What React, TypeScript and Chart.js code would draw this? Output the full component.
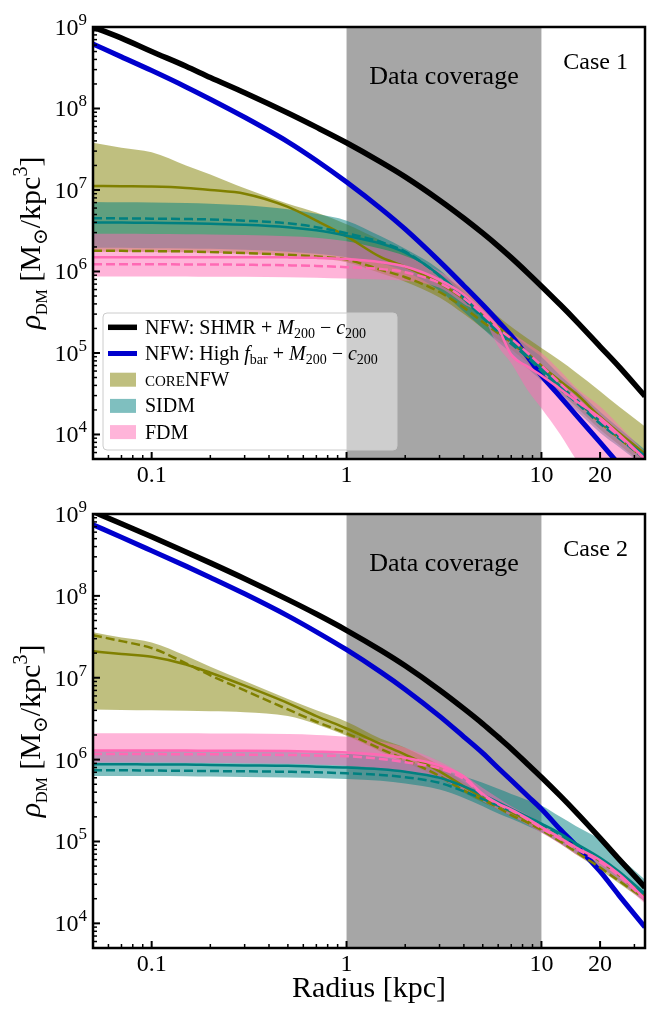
import React, { useEffect, useRef } from 'react';
import Chart from 'chart.js/auto';

// Radii (kpc) at which every density profile below is tabulated
const RADIUS_KPC = [0.05, 0.07, 0.1, 0.15, 0.2, 0.3, 0.5, 0.7, 1, 1.5, 2, 3, 4, 5, 6, 7, 8.5, 10, 12.5, 15, 20, 25, 34];

// ---- Case 1 : rho_DM in M_sun / kpc^3 ----
const CASE1_NFW_SHMR = [1.0e9, 7.3e8, 5.0e8, 3.3e8, 2.4e8, 1.56e8, 8.8e7, 5.9e7, 3.8e7, 2.2e7, 1.45e7, 7.5e6, 4.5e6, 2.95e6, 2.05e6, 1.48e6, 9.6e5, 6.6e5, 3.9e5, 2.5e5, 1.2e5, 6.8e4, 2.95e4];
const CASE1_NFW_HIGHFBAR = [6.2e8, 4.3e8, 2.92e8, 1.84e8, 1.3e8, 7.8e7, 3.9e7, 2.3e7, 1.25e7, 5.9e6, 3.3e6, 1.33e6, 6.7e5, 3.9e5, 2.45e5, 1.63e5, 9.0e4, 5.3e4, 2.9e4, 1.75e4, 8.0e3, 4.3e3, 1.8e3];
const CASE1_CORENFW_MED = [1.12e7, 1.11e7, 1.1e7, 1.06e7, 1.0e7, 9.0e6, 6.2e6, 4.2e6, 2.7e6, 1.5e6, 1.15e6, 7.2e5, 4.6e5, 2.9e5, 2.1e5, 1.5e5, 9.8e4, 7.0e4, 4.5e4, 3.2e4, 1.65e4, 1.05e4, 5.8e3];
const CASE1_CORENFW_ALT = [1.8e6, 1.79e6, 1.78e6, 1.76e6, 1.73e6, 1.68e6, 1.6e6, 1.53e6, 1.4e6, 1.05e6, 8.5e5, 5.6e5, 3.6e5, 2.4e5, 1.75e5, 1.35e5, 9.0e4, 6.5e4, 3.9e4, 2.7e4, 1.4e4, 9.0e3, 5.0e3];
const CASE1_CORENFW_HI = [3.8e7, 3.3e7, 2.9e7, 2.0e7, 1.55e7, 1.05e7, 6.8e6, 5.3e6, 3.8e6, 2.4e6, 1.7e6, 9.5e5, 6.0e5, 4.0e5, 2.8e5, 2.1e5, 1.5e5, 1.15e5, 8.0e4, 5.8e4, 3.4e4, 2.2e4, 1.25e4];
const CASE1_CORENFW_LO = [1.75e6, 1.75e6, 1.74e6, 1.72e6, 1.7e6, 1.65e6, 1.55e6, 1.45e6, 1.3e6, 9.5e5, 7.5e5, 4.8e5, 3.0e5, 2.0e5, 1.45e5, 1.1e5, 7.5e4, 5.2e4, 3.2e4, 2.2e4, 1.15e4, 7.5e3, 4.2e3];
const CASE1_SIDM_MED = [4.0e6, 4.0e6, 3.95e6, 3.9e6, 3.85e6, 3.75e6, 3.5e6, 3.2e6, 2.75e6, 2.2e6, 1.7e6, 9.0e5, 4.8e5, 2.8e5, 1.9e5, 1.4e5, 9.5e4, 6.5e4, 3.9e4, 2.7e4, 1.45e4, 9.5e3, 5.5e3];
const CASE1_SIDM_ALT = [4.5e6, 4.48e6, 4.45e6, 4.4e6, 4.35e6, 4.2e6, 3.9e6, 3.5e6, 2.95e6, 2.3e6, 1.75e6, 8.8e5, 4.6e5, 2.7e5, 1.8e5, 1.3e5, 8.8e4, 6.0e4, 3.6e4, 2.5e4, 1.35e4, 9.0e3, 5.0e3];
const CASE1_SIDM_HI = [7.1e6, 7.05e6, 7.0e6, 6.9e6, 6.8e6, 6.5e6, 5.8e6, 5.1e6, 4.2e6, 2.7e6, 1.9e6, 1.05e6, 5.5e5, 3.3e5, 2.3e5, 1.75e5, 1.2e5, 9.0e4, 5.3e4, 3.6e4, 1.9e4, 1.2e4, 6.5e3];
const CASE1_SIDM_LO = [1.95e6, 1.95e6, 1.93e6, 1.92e6, 1.9e6, 1.85e6, 1.75e6, 1.65e6, 1.5e6, 1.25e6, 1.0e6, 5.8e5, 3.2e5, 2.0e5, 1.35e5, 1.0e5, 6.5e4, 4.6e4, 2.9e4, 2.0e4, 1.05e4, 7.0e3, 4.0e3];
const CASE1_FDM_MED = [1.5e6, 1.5e6, 1.5e6, 1.5e6, 1.5e6, 1.5e6, 1.49e6, 1.47e6, 1.42e6, 1.3e6, 1.15e6, 7.9e5, 5.2e5, 3.2e5, 2.0e5, 9.5e4, 6.8e4, 5.3e4, 3.6e4, 2.6e4, 1.6e4, 1.0e4, 5.0e3];
const CASE1_FDM_ALT = [1.23e6, 1.23e6, 1.23e6, 1.22e6, 1.22e6, 1.21e6, 1.19e6, 1.17e6, 1.13e6, 1.07e6, 9.8e5, 7.2e5, 4.7e5, 3.0e5, 2.0e5, 1.5e5, 1.0e5, 7.0e4, 4.2e4, 2.8e4, 1.5e4, 9.5e3, 5.0e3];
const CASE1_FDM_HI = [2.9e6, 2.9e6, 2.88e6, 2.87e6, 2.85e6, 2.8e6, 2.7e6, 2.6e6, 2.35e6, 1.9e6, 1.55e6, 1.0e6, 6.3e5, 4.0e5, 2.6e5, 1.8e5, 1.3e5, 1.0e5, 6.0e4, 3.8e4, 2.2e4, 1.3e4, 6.0e3];
const CASE1_FDM_LO = [8.7e5, 8.7e5, 8.7e5, 8.7e5, 8.6e5, 8.6e5, 8.5e5, 8.4e5, 8.2e5, 8.0e5, 7.7e5, 6.3e5, 4.0e5, 2.8e5, 1.2e5, 7.5e4, 3.5e4, 2.1e4, 1.0e4, 5.0e3, 2.0e3, 1.0e3, 4.0e2];

// ---- Case 2 : rho_DM in M_sun / kpc^3 ----
const CASE2_NFW_SHMR = [1.07e9, 7.6e8, 5.26e8, 3.44e8, 2.53e8, 1.62e8, 9.0e7, 6.0e7, 3.8e7, 2.16e7, 1.4e7, 7.1e6, 4.2e6, 2.74e6, 1.88e6, 1.36e6, 8.8e5, 6.1e5, 3.6e5, 2.3e5, 1.1e5, 6.1e4, 2.75e4];
const CASE2_NFW_HIGHFBAR = [7.4e8, 5.2e8, 3.56e8, 2.31e8, 1.68e8, 1.06e8, 5.7e7, 3.64e7, 2.2e7, 1.17e7, 7.2e6, 3.4e6, 1.9e6, 1.2e6, 7.9e5, 5.6e5, 3.6e5, 2.5e5, 1.4e5, 9.0e4, 4.3e4, 2.2e4, 9.0e3];
const CASE2_CORENFW_MED = [2.1e7, 1.95e7, 1.8e7, 1.45e7, 1.15e7, 8.0e6, 4.9e6, 3.4e6, 2.4e6, 1.55e6, 1.15e6, 7.2e5, 4.7e5, 3.4e5, 2.8e5, 2.3e5, 1.8e5, 1.45e5, 1.1e5, 8.5e4, 5.8e4, 3.9e4, 2.1e4];
const CASE2_CORENFW_ALT = [3.3e7, 2.8e7, 2.3e7, 1.5e7, 1.07e7, 7.0e6, 4.1e6, 2.9e6, 2.1e6, 1.35e6, 1.0e6, 6.3e5, 4.2e5, 3.2e5, 2.6e5, 2.1e5, 1.7e5, 1.38e5, 1.0e5, 7.5e4, 4.8e4, 3.3e4, 2.0e4];
const CASE2_CORENFW_HI = [3.6e7, 3.1e7, 2.7e7, 1.85e7, 1.36e7, 9.1e6, 5.5e6, 4.0e6, 2.9e6, 1.8e6, 1.4e6, 8.5e5, 5.3e5, 3.8e5, 2.9e5, 2.4e5, 1.9e5, 1.6e5, 1.15e5, 8.8e4, 6.2e4, 4.2e4, 2.2e4];
const CASE2_CORENFW_LO = [4.1e6, 4.05e6, 4.0e6, 3.95e6, 3.9e6, 3.8e6, 3.4e6, 2.7e6, 1.95e6, 1.25e6, 9.3e5, 5.9e5, 3.95e5, 3.0e5, 2.45e5, 2.0e5, 1.6e5, 1.3e5, 9.4e4, 7.0e4, 4.5e4, 3.1e4, 1.85e4];
const CASE2_SIDM_MED = [8.8e5, 8.8e5, 8.7e5, 8.7e5, 8.6e5, 8.5e5, 8.4e5, 8.2e5, 8.0e5, 7.6e5, 7.1e5, 6.0e5, 4.7e5, 3.7e5, 3.0e5, 2.5e5, 2.0e5, 1.65e5, 1.25e5, 9.5e4, 6.3e4, 4.3e4, 2.3e4];
const CASE2_SIDM_ALT = [7.4e5, 7.4e5, 7.35e5, 7.3e5, 7.25e5, 7.2e5, 7.1e5, 7.0e5, 6.8e5, 6.5e5, 6.1e5, 5.2e5, 4.1e5, 3.3e5, 2.75e5, 2.35e5, 1.95e5, 1.62e5, 1.2e5, 9.0e4, 6.0e4, 4.1e4, 2.2e4];
const CASE2_SIDM_HI = [1.3e6, 1.3e6, 1.3e6, 1.29e6, 1.28e6, 1.27e6, 1.25e6, 1.22e6, 1.18e6, 1.08e6, 9.6e5, 7.6e5, 6.2e5, 5.2e5, 4.4e5, 3.8e5, 3.2e5, 2.75e5, 2.0e5, 1.55e5, 1.05e5, 6.5e4, 3.4e4];
const CASE2_SIDM_LO = [6.3e5, 6.3e5, 6.3e5, 6.25e5, 6.2e5, 6.15e5, 6.05e5, 5.95e5, 5.8e5, 5.5e5, 5.1e5, 4.3e5, 3.4e5, 2.7e5, 2.2e5, 1.9e5, 1.55e5, 1.3e5, 9.5e4, 7.2e4, 4.9e4, 3.3e4, 1.85e4];
const CASE2_FDM_MED = [1.29e6, 1.29e6, 1.29e6, 1.29e6, 1.28e6, 1.28e6, 1.27e6, 1.25e6, 1.22e6, 1.15e6, 1.05e6, 8.5e5, 6.2e5, 3.8e5, 2.9e5, 2.45e5, 1.9e5, 1.5e5, 1.1e5, 8.5e4, 5.9e4, 4.0e4, 2.0e4];
const CASE2_FDM_ALT = [1.17e6, 1.17e6, 1.17e6, 1.16e6, 1.16e6, 1.15e6, 1.14e6, 1.12e6, 1.1e6, 1.02e6, 9.3e5, 7.8e5, 5.8e5, 3.7e5, 2.85e5, 2.4e5, 1.85e5, 1.45e5, 1.07e5, 8.2e4, 5.6e4, 3.8e4, 1.95e4];
const CASE2_FDM_HI = [2.1e6, 2.1e6, 2.1e6, 2.1e6, 2.09e6, 2.08e6, 2.05e6, 2.0e6, 1.9e6, 1.65e6, 1.4e6, 9.5e5, 6.5e5, 4.5e5, 3.4e5, 2.7e5, 2.1e5, 1.65e5, 1.2e5, 9.0e4, 6.3e4, 4.3e4, 2.2e4];
const CASE2_FDM_LO = [9.2e5, 9.2e5, 9.2e5, 9.15e5, 9.1e5, 9.05e5, 8.9e5, 8.7e5, 8.4e5, 7.8e5, 7.1e5, 5.8e5, 4.2e5, 3.1e5, 2.45e5, 2.05e5, 1.6e5, 1.28e5, 9.3e4, 7.0e4, 4.8e4, 3.3e4, 1.75e4];

// Axis ranges, shaded radial range and tick labels
const X_MIN = 0.05;
const X_MAX = 34;
const Y_MIN = 5e3;
const Y_MAX = 1e9;
const COVERAGE_KPC = [1, 10];
const Y_TICK_EXPONENTS = [4, 5, 6, 7, 8, 9];
const X_TICK_VALUES = [0.1, 1, 10, 20];
const X_TICK_LABELS = ['0.1', '1', '10', '20'];

const FAMILY = '"Liberation Serif", "Times New Roman", "DejaVu Serif", serif';
const COL = { shmr: '#000000', high: '#0000cd', core: '#808000', sidm: '#008080', fdm: '#ff69b4' };
const BAND = { core: 'rgba(128,128,0,0.5)', sidm: 'rgba(0,128,128,0.5)', fdm: 'rgba(255,105,180,0.5)' };
const DASH = [9, 4];

type Run = { t: string; s: number; it?: boolean; dy?: number };

const runFont = (r: Run) => `${r.it ? 'italic ' : ''}${r.s}px ${FAMILY}`;

function runsWidth(ctx: CanvasRenderingContext2D, runs: Run[]) {
  let w = 0;
  for (const r of runs) {
    ctx.font = runFont(r);
    w += ctx.measureText(r.t).width;
  }
  return w;
}

function drawRuns(ctx: CanvasRenderingContext2D, runs: Run[], x: number, y: number, align: 'left' | 'center' | 'right') {
  const w = runsWidth(ctx, runs);
  let cx = align === 'left' ? x : align === 'center' ? x - w / 2 : x - w;
  ctx.textAlign = 'left';
  ctx.textBaseline = 'alphabetic';
  for (const r of runs) {
    ctx.font = runFont(r);
    ctx.fillText(r.t, cx, y + (r.dy || 0));
    cx += ctx.measureText(r.t).width;
  }
}

type Profiles = {
  shmr: number[]; high: number[];
  coreMed: number[]; coreAlt: number[]; coreHi: number[]; coreLo: number[];
  sidmMed: number[]; sidmAlt: number[]; sidmHi: number[]; sidmLo: number[];
  fdmMed: number[]; fdmAlt: number[]; fdmHi: number[]; fdmLo: number[];
};

const CASE1: Profiles = {
  shmr: CASE1_NFW_SHMR, high: CASE1_NFW_HIGHFBAR,
  coreMed: CASE1_CORENFW_MED, coreAlt: CASE1_CORENFW_ALT, coreHi: CASE1_CORENFW_HI, coreLo: CASE1_CORENFW_LO,
  sidmMed: CASE1_SIDM_MED, sidmAlt: CASE1_SIDM_ALT, sidmHi: CASE1_SIDM_HI, sidmLo: CASE1_SIDM_LO,
  fdmMed: CASE1_FDM_MED, fdmAlt: CASE1_FDM_ALT, fdmHi: CASE1_FDM_HI, fdmLo: CASE1_FDM_LO,
};

const CASE2: Profiles = {
  shmr: CASE2_NFW_SHMR, high: CASE2_NFW_HIGHFBAR,
  coreMed: CASE2_CORENFW_MED, coreAlt: CASE2_CORENFW_ALT, coreHi: CASE2_CORENFW_HI, coreLo: CASE2_CORENFW_LO,
  sidmMed: CASE2_SIDM_MED, sidmAlt: CASE2_SIDM_ALT, sidmHi: CASE2_SIDM_HI, sidmLo: CASE2_SIDM_LO,
  fdmMed: CASE2_FDM_MED, fdmAlt: CASE2_FDM_ALT, fdmHi: CASE2_FDM_HI, fdmLo: CASE2_FDM_LO,
};

const points = (vals: number[]) => RADIUS_KPC.map((r, i) => ({ x: r, y: vals[i] }));

function lineSet(vals: number[], color: string, width: number, dash: number[] = []) {
  return {
    data: points(vals), borderColor: color, borderWidth: width, borderDash: dash,
    fill: false, pointRadius: 0, cubicInterpolationMode: 'monotone', clip: 0,
  };
}

function bandEdge(vals: number[], color: string, fillNext: boolean) {
  return {
    data: points(vals), borderColor: 'rgba(0,0,0,0)', borderWidth: 1,
    backgroundColor: color, fill: fillNext ? '+1' : false,
    pointRadius: 0, cubicInterpolationMode: 'monotone', clip: 0,
  };
}

// Earlier entries are painted on top; fills are all painted before the lines.
function buildDatasets(p: Profiles) {
  return [
    lineSet(p.fdmMed, COL.fdm, 2.5),
    lineSet(p.fdmAlt, COL.fdm, 2.5, DASH),
    lineSet(p.sidmMed, COL.sidm, 2.5),
    lineSet(p.sidmAlt, COL.sidm, 2.5, DASH),
    lineSet(p.coreMed, COL.core, 2.5),
    lineSet(p.coreAlt, COL.core, 2.5, DASH),
    lineSet(p.high, COL.high, 5),
    lineSet(p.shmr, COL.shmr, 5.5),
    bandEdge(p.fdmHi, BAND.fdm, true),
    bandEdge(p.fdmLo, BAND.fdm, false),
    bandEdge(p.sidmHi, BAND.sidm, true),
    bandEdge(p.sidmLo, BAND.sidm, false),
    bandEdge(p.coreHi, BAND.core, true),
    bandEdge(p.coreLo, BAND.core, false),
  ];
}

const LEGEND_ROWS: { kind: 'line' | 'patch'; color: string; width?: number; runs: Run[] }[] = [
  {
    kind: 'line', color: COL.shmr, width: 5.5,
    runs: [{ t: 'NFW: SHMR + ', s: 20 }, { t: 'M', s: 20, it: true }, { t: '200', s: 14, dy: 4 }, { t: ' − ', s: 20 }, { t: 'c', s: 20, it: true }, { t: '200', s: 14, dy: 4 }],
  },
  {
    kind: 'line', color: COL.high, width: 5,
    runs: [{ t: 'NFW: High ', s: 20 }, { t: 'f', s: 20, it: true }, { t: 'bar', s: 14, dy: 4 }, { t: ' + ', s: 20 }, { t: 'M', s: 20, it: true }, { t: '200', s: 14, dy: 4 }, { t: ' − ', s: 20 }, { t: 'c', s: 20, it: true }, { t: '200', s: 14, dy: 4 }],
  },
  { kind: 'patch', color: BAND.core, runs: [{ t: 'CORE', s: 15 }, { t: 'NFW', s: 20 }] },
  { kind: 'patch', color: BAND.sidm, runs: [{ t: 'SIDM', s: 20 }] },
  { kind: 'patch', color: BAND.fdm, runs: [{ t: 'FDM', s: 20 }] },
];

function decorPlugin(caseLabel: string, withLegend: boolean, withXTitle: boolean) {
  return {
    id: 'panelDecor',
    beforeDraw(chart: any) {
      const { ctx, chartArea: a } = chart;
      const xs = chart.scales.x;
      const x0 = xs.getPixelForValue(COVERAGE_KPC[0]);
      const x1 = xs.getPixelForValue(COVERAGE_KPC[1]);
      ctx.save();
      ctx.fillStyle = '#ffffff';
      ctx.fillRect(0, 0, chart.width, chart.height);
      ctx.fillStyle = '#a6a6a6';
      ctx.fillRect(x0, a.top, x1 - x0, a.bottom - a.top);
      ctx.restore();
    },
    afterDraw(chart: any) {
      const { ctx, chartArea: a } = chart;
      const xs = chart.scales.x;
      const ys = chart.scales.y;
      ctx.save();
      ctx.fillStyle = '#000';
      ctx.strokeStyle = '#000';

      const seg = (x1: number, y1: number, x2: number, y2: number, w: number) => {
        ctx.lineWidth = w;
        ctx.beginPath();
        ctx.moveTo(x1, y1);
        ctx.lineTo(x2, y2);
        ctx.stroke();
      };

      // inward ticks on the left and bottom spines
      for (const e of Y_TICK_EXPONENTS) {
        const p = ys.getPixelForValue(10 ** e);
        seg(a.left, p, a.left + 7, p, 2);
      }
      for (let e = 3; e <= 8; e++) {
        for (let m = 2; m <= 9; m++) {
          const v = m * 10 ** e;
          if (v <= Y_MIN * 1.001 || v >= Y_MAX) continue;
          const p = ys.getPixelForValue(v);
          seg(a.left, p, a.left + 4, p, 1.5);
        }
      }
      for (const v of X_TICK_VALUES) {
        const p = xs.getPixelForValue(v);
        seg(p, a.bottom, p, a.bottom - 7, 2);
      }
      for (let e = -2; e <= 1; e++) {
        for (let m = 2; m <= 9; m++) {
          const v = m * 10 ** e;
          if (v <= X_MIN * 1.001 || v >= X_MAX || Math.abs(v - 20) < 1e-9) continue;
          const p = xs.getPixelForValue(v);
          seg(p, a.bottom, p, a.bottom - 4, 1.5);
        }
      }

      // frame
      ctx.lineWidth = 2.5;
      ctx.strokeRect(a.left, a.top, a.right - a.left, a.bottom - a.top);

      // tick labels
      for (const e of Y_TICK_EXPONENTS) {
        const p = ys.getPixelForValue(10 ** e);
        drawRuns(ctx, [{ t: '10', s: 24 }, { t: String(e), s: 17, dy: -10 }], a.left - 6, p + 8, 'right');
      }
      X_TICK_VALUES.forEach((v, i) => {
        drawRuns(ctx, [{ t: X_TICK_LABELS[i], s: 24 }], xs.getPixelForValue(v), a.bottom + 23, 'center');
      });

      // annotations
      const xc = (xs.getPixelForValue(COVERAGE_KPC[0]) + xs.getPixelForValue(COVERAGE_KPC[1])) / 2;
      drawRuns(ctx, [{ t: 'Data coverage', s: 26 }], xc, a.top + 57, 'center');
      drawRuns(ctx, [{ t: caseLabel, s: 24 }], a.right - 17, a.top + 41.5, 'right');

      // y-axis title
      ctx.save();
      ctx.translate(40, (a.top + a.bottom) / 2);
      ctx.rotate(-Math.PI / 2);
      drawRuns(ctx, [
        { t: 'ρ', s: 30, it: true }, { t: 'DM', s: 16, dy: 7 }, { t: ' [M', s: 30 },
        { t: '⊙', s: 20, dy: 7 }, { t: '/kpc', s: 30 }, { t: '3', s: 20, dy: -13 }, { t: ']', s: 30 },
      ], 0, 0, 'center');
      ctx.restore();

      if (withXTitle) {
        drawRuns(ctx, [{ t: 'Radius [kpc]', s: 30 }], (a.left + a.right) / 2, a.bottom + 49, 'center');
      }

      if (withLegend) {
        const bx = a.left + 10, by = a.top + 286, bw = 294, bh = 137;
        ctx.beginPath();
        ctx.roundRect(bx, by, bw, bh, 4);
        ctx.fillStyle = 'rgba(255,255,255,0.45)';
        ctx.fill();
        ctx.lineWidth = 1;
        ctx.strokeStyle = '#cccccc';
        ctx.stroke();
        LEGEND_ROWS.forEach((row, i) => {
          const cy = by + 14.3 + i * 26.2;
          if (row.kind === 'line') {
            ctx.strokeStyle = row.color;
            seg(bx + 5, cy, bx + 34, cy, row.width || 3);
          } else {
            ctx.fillStyle = row.color;
            ctx.fillRect(bx + 7, cy - 7, 26, 14);
          }
          ctx.fillStyle = '#000';
          drawRuns(ctx, row.runs, bx + 42, cy + 6.5, 'left');
        });
      }
      ctx.restore();
    },
  };
}

type PanelProps = {
  profiles: Profiles; caseLabel: string; withLegend: boolean; withXTitle: boolean;
  height: number; padTop: number; padBottom: number;
};

function DensityPanel({ profiles, caseLabel, withLegend, withXTitle, height, padTop, padBottom }: PanelProps) {
  const ref = useRef<HTMLCanvasElement>(null);
  useEffect(() => {
    if (!ref.current) return;
    const chart = new Chart(ref.current, {
      type: 'line',
      data: { datasets: buildDatasets(profiles) as any },
      options: {
        animation: false,
        responsive: false,
        devicePixelRatio: 1,
        layout: { padding: { left: 93, right: 3, top: padTop, bottom: padBottom } },
        scales: {
          x: { type: 'logarithmic', min: X_MIN, max: X_MAX, bounds: 'data', display: false },
          y: { type: 'logarithmic', min: Y_MIN, max: Y_MAX, bounds: 'data', display: false },
        },
        plugins: {
          legend: { display: false },
          tooltip: { enabled: false },
          filler: { drawTime: 'beforeDatasetsDraw' },
        },
        events: [],
      } as any,
      plugins: [decorPlugin(caseLabel, withLegend, withXTitle)],
    });
    return () => chart.destroy();
  }, []);
  return <canvas ref={ref} width={648} height={height} style={{ display: 'block', width: 648, height }} />;
}

export default function App() {
  return (
    <div style={{ position: 'absolute', left: 0, top: 0, width: 648, height: 1009, background: '#ffffff' }}>
      <div style={{ position: 'absolute', left: 0, top: 0 }}>
        <DensityPanel profiles={CASE1} caseLabel="Case 1" withLegend withXTitle={false} height={500} padTop={27} padBottom={41} />
      </div>
      <div style={{ position: 'absolute', left: 0, top: 500 }}>
        <DensityPanel profiles={CASE2} caseLabel="Case 2" withLegend={false} withXTitle height={509} padTop={14} padBottom={61} />
      </div>
    </div>
  );
}
